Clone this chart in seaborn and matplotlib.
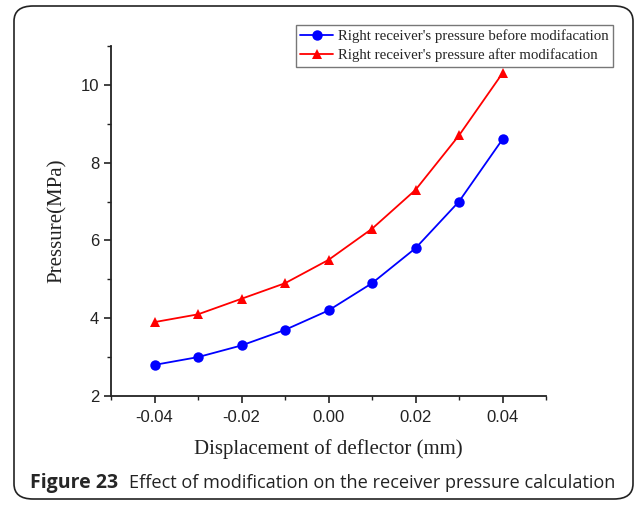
import numpy as np
import pandas as pd
import matplotlib
matplotlib.use("Agg")
import matplotlib.pyplot as plt
from matplotlib.patches import FancyBboxPatch
from matplotlib.ticker import MultipleLocator
import seaborn as sns

displacement = [-0.04, -0.03, -0.02, -0.01, 0.00, 0.01, 0.02, 0.03, 0.04]
before = [2.8, 3.0, 3.3, 3.7, 4.2, 4.9, 5.8, 7.0, 8.6]
after = [3.9, 4.1, 4.5, 4.9, 5.5, 6.3, 7.3, 8.7, 10.3]
series_names = ["Right receiver's pressure before modifacation",
                "Right receiver's pressure after modifacation"]
x_ticks = [-0.04, -0.02, 0.00, 0.02, 0.04]
x_tick_labels = ["-0.04", "-0.02", "0.00", "0.02", "0.04"]
y_ticks = [2, 4, 6, 8, 10]

df = pd.concat([
    pd.DataFrame({"x": displacement, "y": before, "series": series_names[0]}),
    pd.DataFrame({"x": displacement, "y": after, "series": series_names[1]}),
])

sns.set_style("ticks")
fig = plt.figure(figsize=(6.37, 5.05), dpi=100)
ax = fig.add_axes([111/637, 1-396/505, (546-111)/637, (396-46)/505])

sns.lineplot(data=df, x="x", y="y", hue="series", style="series",
             palette={series_names[0]: "#0000ff", series_names[1]: "#ff0000"},
             markers={series_names[0]: "o", series_names[1]: "^"},
             dashes=False, markersize=7.5, markeredgewidth=0, linewidth=1.3,
             ax=ax, legend=True)

ax.set_xlim(-0.05, 0.05)
ax.set_ylim(2, 11)
ax.set_xticks(x_ticks)
ax.set_xticklabels(x_tick_labels)
ax.set_yticks(y_ticks)
ax.xaxis.set_minor_locator(MultipleLocator(0.01))
ax.yaxis.set_minor_locator(MultipleLocator(1))
sns.despine(ax=ax)
for s in ["left", "bottom"]:
    ax.spines[s].set_linewidth(1.3)
    ax.spines[s].set_color("#222222")
ax.tick_params(which="major", direction="out", length=5, width=1.2,
               labelsize=12, colors="#222222")
ax.tick_params(axis="x", which="major", pad=5)
ax.tick_params(which="minor", direction="out", length=3, width=1.0, colors="#222222")
for lab in ax.get_xticklabels() + ax.get_yticklabels():
    lab.set_family("Liberation Sans")

ax.set_xlabel("Displacement of deflector (mm)", family="Liberation Serif",
              fontsize=15, labelpad=10, color="#222222")
ax.set_ylabel("Pressure(MPa)", family="Liberation Serif", fontsize=15,
              labelpad=10, color="#222222")

leg = ax.legend(loc="upper left", bbox_to_anchor=(296/637, 1-25/505),
                bbox_transform=fig.transFigure, frameon=True, fancybox=False,
                prop={"family": "Liberation Serif", "size": 10.7},
                handlelength=2.2, handletextpad=0.3, borderpad=0.3,
                labelspacing=0.35, borderaxespad=0)
leg.get_frame().set_edgecolor("#555555")
leg.get_frame().set_linewidth(1.0)

box = FancyBboxPatch((14/637, 6/505), (633-14)/637, (499-6)/505,
                     boxstyle="round,pad=0,rounding_size=0.03",
                     transform=fig.transFigure, fill=False,
                     edgecolor="#222222", linewidth=1.2)
fig.patches.append(box)

fig.text(30/637, 1-483/505, "Figure 23", family="Open Sans", weight="bold",
         fontsize=14, va="center", ha="left")
fig.text(129/637, 1-483/505, "Effect of modification on the receiver pressure calculation",
         family="Open Sans", fontsize=13.1, va="center", ha="left", color="#222222")

fig.savefig("out.png", dpi=100)
